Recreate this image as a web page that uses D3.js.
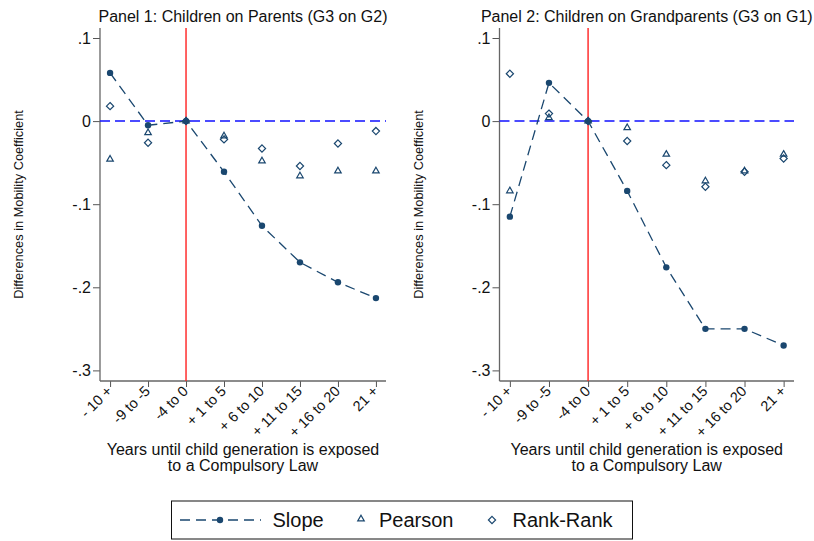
<!DOCTYPE html>
<html>
<head>
<meta charset="utf-8">
<script src="https://cdn.jsdelivr.net/npm/d3@7"></script>
<style>
  body { margin: 0; background: #fff; }
  svg { display: block; font-family: "Liberation Sans", Arial, Helvetica, sans-serif; }
</style>
</head>
<body>
<svg id="chart" width="814" height="541"></svg>
<script>
// ---- Data ----
const categories = ["- 10 +", "-9 to -5", "-4 to 0", "+ 1 to 5", "+ 6 to 10", "+ 11 to 15", "+ 16 to 20", "21 +"];
const yTicks = [0.1, 0, -0.1, -0.2, -0.3];
const yTickLabels = [".1", "0", "-.1", "-.2", "-.3"];

const panel1Title = "Panel 1: Children on Parents (G3 on G2)";
const panel1Slope   = [0.058, -0.005, 0, -0.061, -0.126, -0.170, -0.194, -0.213];
const panel1Pearson = [-0.046, -0.014, 0, -0.018, -0.048, -0.066, -0.060, -0.060];
const panel1Rank    = [0.018, -0.026, 0, -0.022, -0.033, -0.054, -0.027, -0.012];

const panel2Title = "Panel 2: Children on Grandparents (G3 on G1)";
const panel2Slope   = [-0.115, 0.046, 0, -0.084, -0.176, -0.250, -0.250, -0.270];
const panel2Pearson = [-0.084, 0.004, 0, -0.008, -0.040, -0.072, -0.060, -0.040];
const panel2Rank    = [0.057, 0.009, 0, -0.024, -0.053, -0.079, -0.061, -0.045];

const yTitle = "Differences in Mobility Coefficient";
const xTitleLines = ["Years until child generation is exposed", "to a Compulsory Law"];
const legendLabels = ["Slope", "Pearson", "Rank-Rank"];
const eventIndex = 2; // "-4 to 0"

// ---- Styles ----
const navy = "#1a476f";
const svg = d3.select("#chart");

const plotTop = 28, plotBottom = 381;
const y = d3.scaleLinear().domain([0.1, -0.3]).range([38, 370.4]);

function triPath(s) {
  const h = s * Math.sqrt(3) / 2;
  return `M0,${-h*2/3}L${s/2},${h/3}L${-s/2},${h/3}Z`;
}
function diaPath(s) {
  return `M0,${-s}L${s},0L0,${s}L${-s},0Z`;
}

function drawPanel(left, right, title, slope, pearson, rank) {
  const g = svg.append("g");
  const x = d3.scaleLinear().domain([-0.265, categories.length - 1 + 0.265]).range([left, right]);

  // title
  g.append("text").attr("x", (left + right) / 2).attr("y", 22)
    .attr("text-anchor", "middle").attr("font-size", 16).attr("fill", "#111").text(title);

  // y axis
  const yAxis = d3.axisLeft(y).tickValues(yTicks).tickSize(7).tickPadding(2)
    .tickFormat((d, i) => yTickLabels[i]);
  const ya = g.append("g").attr("transform", `translate(${left},0)`).call(yAxis);
  ya.select(".domain").remove();
  ya.selectAll(".tick line").attr("stroke", "#555");
  ya.selectAll(".tick text").attr("font-size", 16).attr("fill", "#111")
    .attr("font-family", "Liberation Sans, Arial, sans-serif");
  g.append("line").attr("x1", left).attr("x2", left).attr("y1", plotTop).attr("y2", plotBottom)
    .attr("stroke", "#666").attr("stroke-width", 1.3);

  // x axis
  const xAxis = d3.axisBottom(x).tickValues(d3.range(categories.length)).tickSize(6)
    .tickFormat(() => "");
  const xa = g.append("g").attr("transform", `translate(0,${plotBottom})`).call(xAxis);
  xa.select(".domain").remove();
  xa.selectAll(".tick line").attr("stroke", "#555");
  g.append("line").attr("x1", left).attr("x2", right).attr("y1", plotBottom).attr("y2", plotBottom)
    .attr("stroke", "#666").attr("stroke-width", 1.3);

  g.selectAll(".xlab").data(categories).enter().append("text")
    .attr("class", "xlab")
    .attr("transform", (d, i) => `translate(${x(i) + 3},${plotBottom + 11}) rotate(-45)`)
    .attr("text-anchor", "end").attr("font-size", 14.5).attr("fill", "#111")
    .text(d => d);

  // x title
  xTitleLines.forEach((t, i) => {
    g.append("text").attr("x", (left + right) / 2).attr("y", 455 + i * 16)
      .attr("text-anchor", "middle").attr("font-size", 16).attr("fill", "#111").text(t);
  });

  // y title
  g.append("text")
    .attr("transform", `translate(${left - 77},${(plotTop + plotBottom) / 2}) rotate(-90)`)
    .attr("text-anchor", "middle").attr("font-size", 12.8).attr("fill", "#111").text(yTitle);

  // zero line
  g.append("line").attr("x1", left).attr("x2", right).attr("y1", y(0)).attr("y2", y(0))
    .attr("stroke", "#1010ff").attr("stroke-width", 1.5).attr("stroke-dasharray", "10,5");

  // event line
  g.append("line").attr("x1", x(eventIndex)).attr("x2", x(eventIndex)).attr("y1", plotTop).attr("y2", plotBottom)
    .attr("stroke", "#ff2020").attr("stroke-width", 1.4);

  // slope line
  const line = d3.line().x((d, i) => x(i)).y(d => y(d));
  g.append("path").datum(slope).attr("d", line).attr("fill", "none")
    .attr("stroke", navy).attr("stroke-width", 1.3).attr("stroke-dasharray", "10,6");

  // Pearson triangles
  g.selectAll(".tri").data(pearson).enter().append("path")
    .attr("transform", (d, i) => `translate(${x(i)},${y(d)})`)
    .attr("d", triPath(6.5)).attr("fill", "none").attr("stroke", navy).attr("stroke-width", 1.2);

  // Rank diamonds
  g.selectAll(".dia").data(rank).enter().append("path")
    .attr("transform", (d, i) => `translate(${x(i)},${y(d)})`)
    .attr("d", diaPath(3.6)).attr("fill", "none").attr("stroke", navy).attr("stroke-width", 1.2);

  // slope dots
  g.selectAll(".dot").data(slope).enter().append("circle")
    .attr("cx", (d, i) => x(i)).attr("cy", d => y(d)).attr("r", 3.2).attr("fill", navy);
}

drawPanel(100, 386, panel1Title, panel1Slope, panel1Pearson, panel1Rank);
drawPanel(499.5, 794, panel2Title, panel2Slope, panel2Pearson, panel2Rank);

// ---- Legend ----
const lg = svg.append("g");
lg.append("rect").attr("x", 171.5).attr("y", 501).attr("width", 461).attr("height", 38)
  .attr("fill", "#fff").attr("stroke", "#111").attr("stroke-width", 1);
const ly = 520;
lg.append("line").attr("x1", 180).attr("x2", 261).attr("y1", ly).attr("y2", ly)
  .attr("stroke", navy).attr("stroke-width", 1.3).attr("stroke-dasharray", "10,6");
lg.append("circle").attr("cx", 220).attr("cy", ly).attr("r", 3.2).attr("fill", navy);
lg.append("text").attr("x", 272.5).attr("y", ly + 7).attr("font-size", 20).attr("fill", "#111").text(legendLabels[0]);
lg.append("path").attr("transform", `translate(361,${ly - 1})`).attr("d", triPath(6.5))
  .attr("fill", "none").attr("stroke", navy).attr("stroke-width", 1.2);
lg.append("text").attr("x", 379).attr("y", ly + 7).attr("font-size", 20).attr("fill", "#111").text(legendLabels[1]);
lg.append("path").attr("transform", `translate(492,${ly})`).attr("d", diaPath(3.6))
  .attr("fill", "none").attr("stroke", navy).attr("stroke-width", 1.2);
lg.append("text").attr("x", 512.5).attr("y", ly + 7).attr("font-size", 20).attr("fill", "#111").text(legendLabels[2]);
</script>
</body>
</html>
